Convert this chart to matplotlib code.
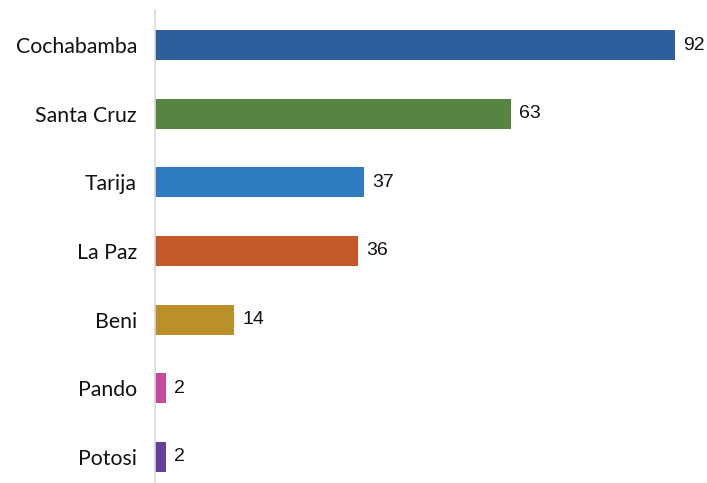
import matplotlib.pyplot as plt

# departamentos y valores
departamentos = ['Cochabamba', 'Santa Cruz', 'Tarija', 'La Paz', 'Beni', 'Pando', 'Potosi']
valores = [92, 63, 37, 36, 14, 2, 2]
colores = ['#2E5E9E', '#568441', '#2E7BBF', '#C55A28', '#BA9028', '#C44A9E', '#653F9A']

fig = plt.figure(figsize=(7.07, 4.83), dpi=100)
ax = fig.add_axes([155 / 707, 0, 520 / 707, 473 / 483])

pos = range(len(departamentos))
ax.barh(pos, valores, height=0.44, color=colores)

# etiquetas de valor
for p, v in zip(pos, valores):
    ax.text(v + 1.4, p, str(v), va='center', ha='left', fontsize=14,
            family='Liberation Sans', color='#111111')

ax.set_xlim(0, 92)
ax.set_ylim(6.38, -0.51)
ax.set_yticks(list(pos))
ax.set_yticklabels(departamentos, family='Lato', fontsize=15.3, color='#111111')
ax.tick_params(axis='y', length=0, pad=13)
ax.set_xticks([])

for s in ['top', 'right', 'bottom']:
    ax.spines[s].set_visible(False)
ax.spines['left'].set_color('#D9D9D9')
ax.spines['left'].set_linewidth(1.2)

fig.savefig('out.png', dpi=100)
